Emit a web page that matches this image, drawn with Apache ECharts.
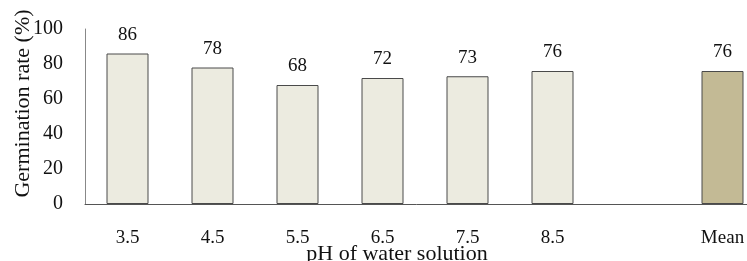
<!DOCTYPE html>
<html>
<head>
<meta charset="utf-8">
<script src="https://cdn.jsdelivr.net/npm/echarts@6/dist/echarts.min.js"></script>
<style>
html,body{margin:0;padding:0;background:#fff;}
#main{width:747px;height:261px;}
</style>
</head>
<body>
<div id="main"></div>
<script>
// 数据
var categories = ['3.5', '4.5', '5.5', '6.5', '7.5', '8.5', '', 'Mean'];
var rates = [86, 78, 68, 72, 73, 76, null, 76];
var barColors = ['#ECEBE0', '#ECEBE0', '#ECEBE0', '#ECEBE0', '#ECEBE0', '#ECEBE0', '#ECEBE0', '#C3BA95'];
var yTicks = { min: 0, max: 100, interval: 20 };

var font = '"Liberation Serif", "DejaVu Serif", serif';

var seriesData = [];
for (var i = 0; i < rates.length; i++) {
	seriesData.push({
		value: rates[i] == null ? '-' : rates[i],
		itemStyle: { color: barColors[i] }
	});
}

var myChart = echarts.init(document.getElementById('main'));
var option = {
	animation: false,
	grid: {
		left: 85,
		top: 29,
		width: 680,
		height: 175,
		containLabel: false,
		outerBoundsMode: 'none'
	},
	xAxis: {
		type: 'category',
		data: categories,
		boundaryGap: true,
		axisTick: { show: false },
		axisLine: { lineStyle: { color: '#555', width: 1 } },
		axisLabel: {
			interval: 0,
			margin: 25,
			fontSize: 19,
			fontFamily: font,
			color: '#111'
		},
		name: 'pH of water solution',
		nameLocation: 'middle',
		nameGap: 39,
		nameMoveOverlap: false,
		nameTextStyle: {
			fontSize: 22,
			fontFamily: font,
			color: '#111',
			padding: [0, 56, 0, 0]
		}
	},
	yAxis: {
		type: 'value',
		min: yTicks.min,
		max: yTicks.max,
		interval: yTicks.interval,
		splitLine: { show: false },
		axisTick: { show: false },
		axisLine: { show: true, lineStyle: { color: '#888', width: 1 } },
		axisLabel: {
			margin: 22,
			fontSize: 20,
			fontFamily: font,
			color: '#111'
		},
		name: 'Germination rate (%)',
		nameLocation: 'middle',
		nameRotate: 90,
		nameGap: 51,
		nameMoveOverlap: false,
		nameTextStyle: {
			fontSize: 22,
			fontFamily: font,
			color: '#111',
			padding: [0, 0, 0, 26]
		}
	},
	series: [{
		type: 'bar',
		barWidth: 42,
		data: seriesData,
		itemStyle: { borderColor: '#4a4a4a', borderWidth: 1 },
		label: {
			show: true,
			position: 'top',
			distance: 9,
			fontSize: 19,
			fontFamily: font,
			color: '#111'
		}
	}]
};
myChart.setOption(option);
</script>
</body>
</html>
